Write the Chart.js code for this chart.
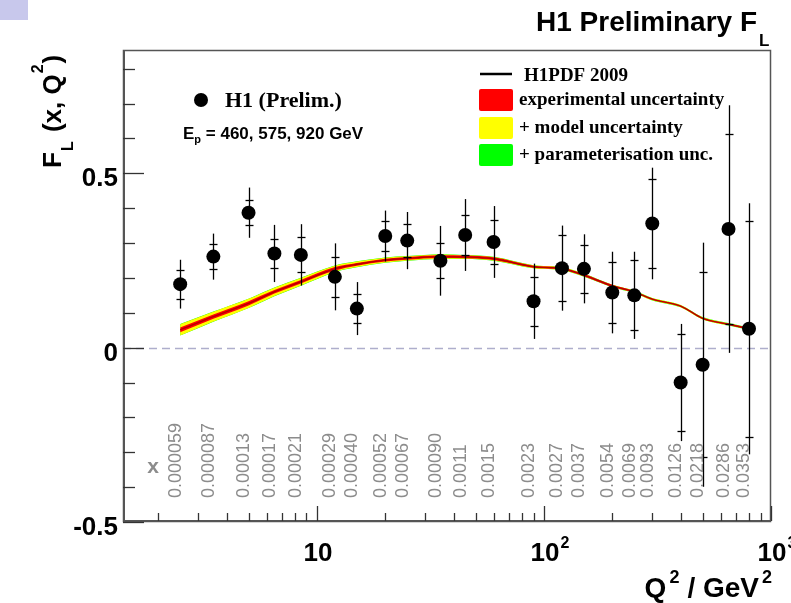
<!DOCTYPE html>
<html><head><meta charset="utf-8">
<script src="https://cdn.jsdelivr.net/npm/chart.js@4"></script>
<style>html,body{margin:0;padding:0;background:#fff;} canvas{display:block;}</style>
</head><body>
<canvas id="c" width="791" height="603"></canvas>
<script>
// ---- data ----
const q2 = [2.5,3.5,5,6.5,8.5,12,15,20,25,35,45,60,90,120,150,200,250,300,400,500,650,800];
const xLabels = ["0.000059","0.000087","0.00013","0.00017","0.00021","0.00029","0.00040","0.00052","0.00067","0.00090","0.0011","0.0015","0.0023","0.0027","0.0037","0.0054","0.0069","0.0093","0.0126","0.0218","0.0286","0.0353"];
const flValues = [0.182,0.261,0.387,0.270,0.266,0.203,0.112,0.320,0.307,0.249,0.323,0.303,0.133,0.228,0.226,0.158,0.150,0.356,-0.100,-0.049,0.340,0.054];
const statErr  = [0.042,0.035,0.036,0.041,0.050,0.058,0.041,0.043,0.048,0.050,0.056,0.062,0.070,0.094,0.069,0.088,0.100,0.129,0.140,0.265,0.273,0.310];
const totErr   = [0.070,0.066,0.072,0.082,0.088,0.096,0.076,0.073,0.082,0.100,0.103,0.103,0.108,0.122,0.099,0.117,0.125,0.160,0.168,0.350,0.355,0.360];

const curveQ2  = [2.5,3.5,5,6.5,8.5,12,15,20,25,35,45,60,90,110,120,150,200,250,300,400,500,650,800];
const curveFL  = [0.051,0.089,0.127,0.160,0.189,0.226,0.239,0.251,0.256,0.261,0.260,0.255,0.232,0.229,0.227,0.208,0.177,0.160,0.139,0.119,0.084,0.067,0.054];
const expUnc   = [0.007,0.006,0.006,0.005,0.005,0.005,0.004,0.004,0.004,0.004,0.004,0.004,0.003,0.003,0.003,0.003,0.003,0.002,0.002,0.002,0.002,0.002,0.002];
const modelUnc = [0.016,0.014,0.013,0.012,0.011,0.009,0.008,0.007,0.006,0.006,0.005,0.005,0.004,0.004,0.004,0.004,0.003,0.003,0.003,0.003,0.003,0.003,0.003];
const paramUnc = [0.0165,0.0145,0.0135,0.0125,0.0115,0.0095,0.0085,0.0075,0.0065,0.0065,0.0055,0.0055,0.0045,0.0045,0.0045,0.0045,0.0035,0.0035,0.0035,0.0035,0.0035,0.0035,0.0035];

const yTickValues = [-0.5,0,0.5];
const yTickLabels = ["-0.5","0","0.5"];
const xTickValues = [10,100,1000];
const xTickBase = ["10","10","10"];
const xTickExp = ["","2","3"];
const legendItems = ["H1PDF 2009","experimental uncertainty","+ model uncertainty","+ parameterisation unc."];
const legendColors = ["#000000","#ff0000","#ffff00","#00ff00"];

// ---- datasets ----
function band(arr, sign){ return curveQ2.map((q,i)=>({x:q, y:curveFL[i]+sign*arr[i]})); }
const bandCommon = {pointRadius:0, borderWidth:0, cubicInterpolationMode:'monotone', showLine:true, borderColor:'rgba(0,0,0,0)'};
const datasets = [
  Object.assign({data:band(paramUnc,-1), fill:false, order:20}, bandCommon),
  Object.assign({data:band(paramUnc,1), fill:'-1', backgroundColor:'#00ff00', order:19}, bandCommon),
  Object.assign({data:band(modelUnc,-1), fill:false, order:18}, bandCommon),
  Object.assign({data:band(modelUnc,1), fill:'-1', backgroundColor:'#ffff00', order:17}, bandCommon),
  Object.assign({data:band(expUnc,-1), fill:false, order:16}, bandCommon),
  Object.assign({data:band(expUnc,1), fill:'-1', backgroundColor:'#ff0000', order:15}, bandCommon),
  {data:curveQ2.map((q,i)=>({x:q,y:curveFL[i]})), borderColor:'#b40000', borderWidth:1.4, pointRadius:0, fill:false, cubicInterpolationMode:'monotone', showLine:true, order:10},
  {data:q2.map((q,i)=>({x:q,y:flValues[i]})), showLine:false, pointRadius:7, pointBackgroundColor:'#000', pointBorderWidth:0, pointHoverRadius:7, order:1}
];
const POINTS = 7;

function txt(ctx, s, x, y, font, color, align){
  ctx.font = font; ctx.fillStyle = color||'#000'; ctx.textAlign = align||'left'; ctx.textBaseline='alphabetic';
  ctx.fillText(s, x, y);
}

const deco = {
  id:'deco',
  beforeDatasetsDraw(chart){
    const ctx = chart.ctx, a = chart.chartArea, y = chart.scales.y;
    ctx.save();
    ctx.strokeStyle = '#aeaecc'; ctx.lineWidth = 1.3; ctx.setLineDash([8,5]);
    const y0 = Math.round(y.getPixelForValue(0))+0.5;
    ctx.beginPath(); ctx.moveTo(a.left, y0); ctx.lineTo(a.right, y0); ctx.stroke();
    ctx.restore();
  },
  beforeDatasetDraw(chart, args){
    if (args.index !== POINTS) return;
    const ctx = chart.ctx, xs = chart.scales.x, ys = chart.scales.y;
    ctx.save();
    ctx.strokeStyle = '#000'; ctx.lineWidth = 1.3;
    q2.forEach((q,i)=>{
      const px = Math.round(xs.getPixelForValue(q))+0.5;
      const top = ys.getPixelForValue(flValues[i]+totErr[i]);
      const bot = ys.getPixelForValue(flValues[i]-totErr[i]);
      ctx.beginPath(); ctx.moveTo(px, top); ctx.lineTo(px, bot); ctx.stroke();
      [statErr[i], -statErr[i]].forEach(e=>{
        const py = Math.round(ys.getPixelForValue(flValues[i]+e))+0.5;
        ctx.beginPath(); ctx.moveTo(px-4, py); ctx.lineTo(px+4, py); ctx.stroke();
      });
    });
    ctx.restore();
  },
  afterDraw(chart){
    const ctx = chart.ctx, a = chart.chartArea, xs = chart.scales.x, ys = chart.scales.y;
    ctx.save();
    // corner square
    ctx.fillStyle = '#c8c8ec'; ctx.fillRect(0,0,28,20);
    // frame
    ctx.strokeStyle = '#555'; ctx.lineWidth = 1.5;
    ctx.strokeRect(a.left+0.5, a.top+0.5, a.right-a.left-1, a.bottom-a.top-1);
    ctx.lineWidth = 2; ctx.strokeStyle = '#555';
    ctx.beginPath(); ctx.moveTo(a.left+1, a.top); ctx.lineTo(a.left+1, a.bottom-1); ctx.lineTo(a.right, a.bottom-1); ctx.stroke();
    // y ticks
    ctx.strokeStyle = '#333'; ctx.lineWidth = 1.3;
    for (let k=-5;k<=8;k++){
      const v = k/10; const py = Math.round(ys.getPixelForValue(v))+0.5;
      const len = (k%5===0)?21:12;
      ctx.beginPath(); ctx.moveTo(a.left, py); ctx.lineTo(a.left+len, py); ctx.stroke();
    }
    // x ticks
    for (let dec=1; dec<=100; dec*=10){
      for (let m=1;m<=10;m++){
        const v = m*dec; if (v < xs.min || v > xs.max) continue;
        if (m===10 && dec<100) continue;
        const px = Math.round(xs.getPixelForValue(v))+0.5;
        const major = (m===1||m===10);
        const len = major?15:8;
        ctx.beginPath(); ctx.moveTo(px, a.bottom-1); ctx.lineTo(px, a.bottom-1-len); ctx.stroke();
      }
    }
    // y tick labels
    yTickValues.forEach((v,i)=>{
      txt(ctx, yTickLabels[i], a.left-5, ys.getPixelForValue(v)+13, 'bold 26px "Liberation Sans", Arial, sans-serif', '#000', 'right');
    });
    // x tick labels
    xTickValues.forEach((v,i)=>{
      const px = xs.getPixelForValue(v)+1;
      ctx.font = 'bold 26px "Liberation Sans", Arial, sans-serif';
      const w = ctx.measureText(xTickBase[i]).width;
      txt(ctx, xTickBase[i], px, 561, 'bold 26px "Liberation Sans", Arial, sans-serif', '#000', 'center');
      if (xTickExp[i]) txt(ctx, xTickExp[i], px + w/2 + 1, 548, 'bold 16px "Liberation Sans", Arial, sans-serif', '#000', 'left');
    });
    // x-value labels
    ctx.fillStyle = '#8c8c8c';
    q2.forEach((q,i)=>{
      const px = xs.getPixelForValue(q);
      ctx.save(); ctx.translate(px+0.5, 498); ctx.rotate(-Math.PI/2);
      ctx.font = '18px "Liberation Sans", Arial, sans-serif'; ctx.textAlign='left'; ctx.textBaseline='alphabetic';
      ctx.fillText(xLabels[i], 0, 0);
      ctx.restore();
    });
    txt(ctx, 'x', 153, 473, 'bold 21px "Liberation Sans", Arial, sans-serif', '#8c8c8c', 'center');
    // title
    txt(ctx, 'H1 Preliminary F', 757, 31, 'bold 28px "Liberation Sans", Arial, sans-serif', '#000', 'right');
    txt(ctx, 'L', 759, 46, 'bold 17px "Liberation Sans", Arial, sans-serif', '#000', 'left');
    // x axis title, right-aligned at 772
    {
      const fB = 'bold 28px "Liberation Sans", Arial, sans-serif', fS = 'bold 18px "Liberation Sans", Arial, sans-serif';
      let x = 772; const base = 597;
      ctx.font = fS; let w = ctx.measureText('2').width; x -= w; txt(ctx,'2',x,base-14,fS);
      x -= 3; ctx.font = fB; w = ctx.measureText('/ GeV').width; x -= w; txt(ctx,'/ GeV',x,base,fB);
      x -= 8; ctx.font = fS; w = ctx.measureText('2').width; x -= w; txt(ctx,'2',x,base-14,fS);
      x -= 3; ctx.font = fB; w = ctx.measureText('Q').width; x -= w; txt(ctx,'Q',x,base,fB);
    }
    // y axis title (rotated)
    {
      ctx.save(); ctx.translate(61, 168); ctx.rotate(-Math.PI/2);
      const fB = 'bold 26px "Liberation Sans", Arial, sans-serif', fS = 'bold 16px "Liberation Sans", Arial, sans-serif';
      let x = 0;
      txt(ctx,'F',x,0,fB); ctx.font=fB; x += ctx.measureText('F').width + 1;
      txt(ctx,'L',x,12,fS); ctx.font=fS; x += ctx.measureText('L').width + 2;
      txt(ctx,' (x, Q',x,0,fB); ctx.font=fB; x += ctx.measureText(' (x, Q').width + 1;
      txt(ctx,'2',x,-18,fS); ctx.font=fS; x += ctx.measureText('2').width + 1;
      txt(ctx,')',x,0,fB);
      ctx.restore();
    }
    // left legend
    ctx.fillStyle = '#000'; ctx.beginPath(); ctx.arc(201, 100, 7, 0, Math.PI*2); ctx.fill();
    txt(ctx, 'H1 (Prelim.)', 225, 107, 'bold 22px "Liberation Serif", "Times New Roman", serif', '#000', 'left');
    {
      const f = 'bold 17px "Liberation Sans", Arial, sans-serif', fs = 'bold 11px "Liberation Sans", Arial, sans-serif';
      let x = 183;
      txt(ctx,'E',x,139,f); ctx.font=f; x += ctx.measureText('E').width;
      txt(ctx,'p',x,143,fs); ctx.font=fs; x += ctx.measureText('p').width;
      txt(ctx,' = 460, 575, 920 GeV',x,139,f);
    }
    // right legend
    ctx.strokeStyle = '#000'; ctx.lineWidth = 2.5;
    ctx.beginPath(); ctx.moveTo(480, 74); ctx.lineTo(512, 74); ctx.stroke();
    const lf = 'bold 19px "Liberation Serif", "Times New Roman", serif';
    txt(ctx, legendItems[0], 524, 81, lf);
    const boxY = [89,117,144];
    for (let i=1;i<4;i++){
      ctx.fillStyle = legendColors[i];
      ctx.beginPath(); ctx.roundRect(479, boxY[i-1], 34, 22, 2); ctx.fill();
      txt(ctx, legendItems[i], 519, boxY[i-1]+16, lf);
    }
    ctx.restore();
  }
};

new Chart(document.getElementById('c'), {
  type:'line',
  data:{datasets},
  options:{
    responsive:false, animation:false, devicePixelRatio:1,
    layout:{padding:{left:123, top:50, right:20, bottom:81}},
    plugins:{legend:{display:false}, tooltip:{enabled:false}},
    scales:{
      x:{type:'logarithmic', min:1.40, max:1000, display:false},
      y:{type:'linear', min:-0.5, max:0.8535, display:false}
    }
  },
  plugins:[deco]
});
</script>
</body></html>
